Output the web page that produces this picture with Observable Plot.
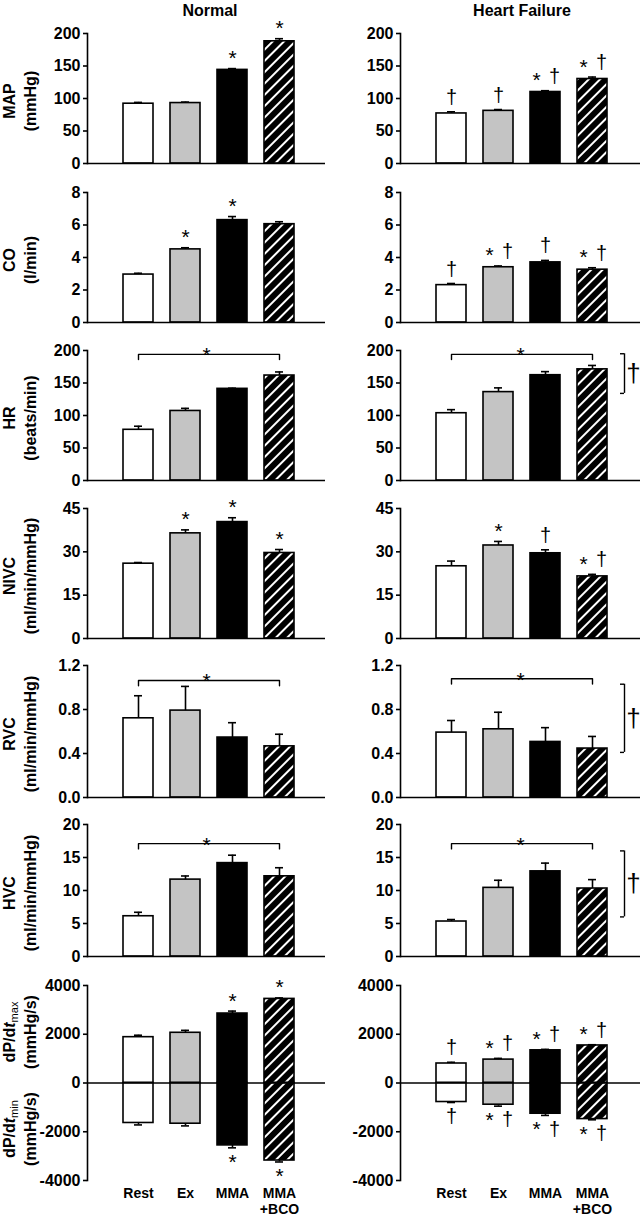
<!DOCTYPE html>
<html>
<head>
<meta charset="utf-8">
<script src="https://cdn.jsdelivr.net/npm/d3@7"></script>
<script src="https://cdn.jsdelivr.net/npm/@observablehq/plot@0.6"></script>
<style>
  html, body { margin: 0; padding: 0; background: #fff; }
  #fig { position: relative; width: 643px; height: 1220px; overflow: hidden; font-family: Arial, "Liberation Sans", Helvetica, sans-serif; color: #000; }
  #fig svg.panel { position: absolute; overflow: visible; background: transparent; max-width: none; }
  .title { position: absolute; font-weight: bold; font-size: 16px; white-space: nowrap; transform: translate(-50%, -50%); }
  .ylab { position: absolute; font-weight: bold; font-size: 16px; white-space: nowrap; text-align: center; line-height: 21px; transform: translate(-50%, -50%) rotate(-90deg); }
  .ylab sub { font-size: 11px; font-weight: normal; vertical-align: -3px; line-height: 0; }
</style>
</head>
<body>
<svg width="0" height="0" style="position:absolute">
  <defs>
    <pattern id="hatch" patternUnits="userSpaceOnUse" width="8" height="8" patternTransform="rotate(45)">
      <rect width="8" height="8" fill="#000"/>
      <rect x="3" y="0" width="2" height="8" fill="#fff"/>
    </pattern>
  </defs>
</svg>
<div id="fig"></div>
<script>
// ---------- data ----------
const categories = ["Rest", "Ex", "MMA", "MMA+BCO"];
const xTickLabels = ["Rest", "Ex", "MMA", "MMA\n+BCO"];
const barFills = ["white", "#c4c4c4", "black", "url(#hatch)"];
const groups = ["Normal", "Heart Failure"];

const mapNormal = [92, 93, 144, 188];
const mapNormalSE = [2, 1.5, 2, 4];
const mapNormalSig = ["", "", "*", "*"];
const mapHF = [77, 81, 110, 130];
const mapHFSE = [2.5, 2, 2, 3];
const mapHFSig = ["†", "†", "*†", "*†"];

const coNormal = [2.95, 4.5, 6.3, 6.05];
const coNormalSE = [0.08, 0.1, 0.22, 0.15];
const coNormalSig = ["", "*", "*", ""];
const coHF = [2.3, 3.4, 3.7, 3.25];
const coHFSE = [0.1, 0.08, 0.12, 0.12];
const coHFSig = ["†", "*†", "†", "*†"];

const hrNormal = [78, 107, 141, 161.5];
const hrNormalSE = [5.5, 4, 1, 5.5];
const hrHF = [103.5, 136, 162, 171];
const hrHFSE = [5.5, 6.5, 5.5, 6];
const hrBracket = [194, 194];
const hrSideBracket = [195, 134];

const nivcNormal = [25.9, 36.4, 40.3, 29.6];
const nivcNormalSE = [0.4, 1.2, 1.5, 1.2];
const nivcNormalSig = ["", "*", "*", "*"];
const nivcHF = [25.0, 32.2, 29.5, 21.5];
const nivcHFSE = [1.8, 1.4, 1.2, 0.7];
const nivcHFSig = ["", "*", "†", "*†"];

const rvcNormal = [0.72, 0.79, 0.545, 0.465];
const rvcNormalSE = [0.205, 0.22, 0.135, 0.11];
const rvcHF = [0.59, 0.62, 0.505, 0.445];
const rvcHFSE = [0.11, 0.155, 0.13, 0.11];
const rvcBracket = [1.064, 1.08];
const rvcSideBracket = [1.03, 0.41];

const hvcNormal = [6.1, 11.65, 14.15, 12.15];
const hvcNormalSE = [0.6, 0.55, 1.2, 1.3];
const hvcHF = [5.3, 10.4, 12.9, 10.3];
const hvcHFSE = [0.3, 1.15, 1.25, 1.35];
const hvcBracket = [17.1, 17.1];
const hvcSideBracket = [16, 6];

const dpMaxNormal = [1880, 2060, 2850, 3450];
const dpMaxNormalSE = [80, 100, 100, 40];
const dpMinNormal = [-1640, -1670, -2560, -3180];
const dpMinNormalSE = [80, 90, 100, 60];
const dpNormalSig = ["", "", "*", "*"];
const dpMaxHF = [800, 960, 1340, 1540];
const dpMaxHFSE = [50, 50, 40, 30];
const dpMinHF = [-780, -890, -1260, -1480];
const dpMinHFSE = [20, 60, 70, 30];
const dpHFSig = ["†", "*†", "*†", "*†"];

const none = ["", "", "", ""];

const rows = [
  {label: ["MAP", "(mmHg)"], domain: [0, 200], ticks: [0, 50, 100, 150, 200], fmt: d => `${d}`, top: 33, bottom: 163,
   g: [{mean: mapNormal, se: mapNormalSE, sig: mapNormalSig}, {mean: mapHF, se: mapHFSE, sig: mapHFSig}]},
  {label: ["CO", "(l/min)"], domain: [0, 8], ticks: [0, 2, 4, 6, 8], fmt: d => `${d}`, top: 192, bottom: 322,
   g: [{mean: coNormal, se: coNormalSE, sig: coNormalSig}, {mean: coHF, se: coHFSE, sig: coHFSig}]},
  {label: ["HR", "(beats/min)"], domain: [0, 200], ticks: [0, 50, 100, 150, 200], fmt: d => `${d}`, top: 350, bottom: 480,
   g: [{mean: hrNormal, se: hrNormalSE, sig: none, bracket: hrBracket[0]},
       {mean: hrHF, se: hrHFSE, sig: none, bracket: hrBracket[1], side: hrSideBracket}]},
  {label: ["NIVC", "(ml/min/mmHg)"], domain: [0, 45], ticks: [0, 15, 30, 45], fmt: d => `${d}`, top: 508, bottom: 638,
   g: [{mean: nivcNormal, se: nivcNormalSE, sig: nivcNormalSig}, {mean: nivcHF, se: nivcHFSE, sig: nivcHFSig}]},
  {label: ["RVC", "(ml/min/mmHg)"], domain: [0, 1.2], ticks: [0, 0.4, 0.8, 1.2], fmt: d3.format(".1f"), top: 665, bottom: 797,
   g: [{mean: rvcNormal, se: rvcNormalSE, sig: none, bracket: rvcBracket[0]},
       {mean: rvcHF, se: rvcHFSE, sig: none, bracket: rvcBracket[1], side: rvcSideBracket}]},
  {label: ["HVC", "(ml/min/mmHg)"], domain: [0, 20], ticks: [0, 5, 10, 15, 20], fmt: d => `${d}`, top: 824, bottom: 956,
   g: [{mean: hvcNormal, se: hvcNormalSE, sig: none, bracket: hvcBracket[0]},
       {mean: hvcHF, se: hvcHFSE, sig: none, bracket: hvcBracket[1], side: hvcSideBracket}]},
  {label: null, domain: [-4000, 4000], ticks: [-4000, -2000, 0, 2000, 4000], fmt: d => `${d}`, top: 985, bottom: 1180, xAxis: true,
   g: [{mean: dpMaxNormal, se: dpMaxNormalSE, sig: dpNormalSig, neg: {mean: dpMinNormal, se: dpMinNormalSE, sig: dpNormalSig}},
       {mean: dpMaxHF, se: dpMaxHFSE, sig: dpHFSig, neg: {mean: dpMinHF, se: dpMinHFSE, sig: dpHFSig}}]}
];

// ---------- helpers ----------
const fig = document.getElementById("fig");
const FONT = "Arial, 'Liberation Sans', Helvetica, sans-serif";

function table(g) {
  return categories.map((c, i) => ({cat: c, fill: barFills[i], mean: g.mean[i], se: g.se[i], sig: g.sig[i]}));
}

function barMarks(data, below) {
  const tip = d => below ? d.mean - d.se : d.mean + d.se;
  return [
    Plot.barY(data, {x: "cat", y: "mean", fill: "fill", stroke: "black", strokeWidth: 1.6}),
    Plot.ruleX(data, {x: "cat", y1: "mean", y2: tip, stroke: "black", strokeWidth: 1.6}),
    Plot.tickY(data, {x: "cat", y: tip, stroke: "black", strokeWidth: 1.6, insetLeft: 11, insetRight: 11})
  ];
}

function sigMarks(data, below) {
  const tip = d => below ? d.mean - d.se : d.mean + d.se;
  const both = d => d.sig.includes("*") && d.sig.includes("†");
  const stars = data.filter(d => d.sig.includes("*"));
  const dags = data.filter(d => d.sig.includes("†"));
  const common = {x: "cat", y: tip, fontWeight: "normal", fill: "black", lineAnchor: below ? "top" : "bottom"};
  return [
    Plot.text(stars.filter(d => !both(d)), {...common, text: () => "*", fontSize: 21, dy: below ? 6 : -3.5}),
    Plot.text(stars.filter(both), {...common, text: () => "*", fontSize: 21, dy: below ? 6 : -3.5, dx: -9}),
    Plot.text(dags.filter(d => !both(d)), {...common, text: () => "†", fontSize: 20, dy: below ? 6 : -8}),
    Plot.text(dags.filter(both), {...common, text: () => "†", fontSize: 20, dy: below ? 6 : -8, dx: 9})
  ];
}

function makePanel(spec, col) {
  const g = spec.g[col];
  const isLeft = col === 0;
  const width = isLeft ? 330 : 323;
  const marginLeft = isLeft ? 87 : 80;
  const marginRight = isLeft ? 5 : 3;
  const xRange = isLeft ? [122.5, 294] : [116, 288];
  const marginTop = 30;
  const marginBottom = spec.xAxis ? 38 : 12;
  const height = marginTop + (spec.bottom - spec.top) + marginBottom;
  const span = spec.domain[1] - spec.domain[0];

  const data = table(g);
  const marks = [...barMarks(data, false)];
  let negData = null;
  if (g.neg) {
    negData = table(g.neg);
    marks.push(...barMarks(negData, true));
  }
  marks.push(Plot.ruleY([0], {stroke: "black", strokeWidth: 1.6}));
  marks.push(Plot.frame({anchor: "left", stroke: "black", strokeWidth: 1.6}));
  marks.push(Plot.axisY({ticks: spec.ticks, tickFormat: spec.fmt, tickSize: 4, tickPadding: 3, strokeWidth: 1.6, fontSize: 16, fontWeight: "bold", label: null}));
  if (spec.xAxis) {
    marks.push(Plot.axisX({tickSize: 0, tickPadding: 6, fontSize: 14, fontWeight: "bold", lineHeight: 1.15, label: null,
      tickFormat: d => xTickLabels[categories.indexOf(d)]}));
  }
  marks.push(...sigMarks(data, false));
  if (negData) marks.push(...sigMarks(negData, true));

  if (g.bracket !== undefined) {
    const drop = span * 0.04;
    const b = g.bracket;
    const pts = [
      {cat: categories[0], y: b - drop}, {cat: categories[0], y: b},
      {cat: categories[3], y: b}, {cat: categories[3], y: b - drop}
    ];
    marks.push(Plot.line(pts, {x: "cat", y: "y", stroke: "black", strokeWidth: 1.4}));
    marks.push(Plot.text([b], {y: d => d, text: () => "*", fontSize: 21, fontWeight: "normal", lineAnchor: "bottom", dy: 8}));
  }
  if (g.side) {
    const [s1, s2] = g.side;
    const last = categories[3];
    marks.push(Plot.ruleX([{cat: last}], {x: "cat", y1: s1, y2: s2, dx: 32, stroke: "black", strokeWidth: 1.4}));
    marks.push(Plot.tickY([{cat: last, y: s1}, {cat: last, y: s2}], {x: "cat", y: "y", dx: 17, insetLeft: 26, stroke: "black", strokeWidth: 1.4}));
    marks.push(Plot.text([{cat: last, y: (s1 + s2) / 2}], {x: "cat", y: "y", text: () => "†", dx: 41, fontSize: 26, fontWeight: "normal", lineAnchor: "middle"}));
  }

  const svg = Plot.plot({
    width, height, marginLeft, marginRight, marginTop, marginBottom,
    style: {fontFamily: FONT, fontSize: "15px", fontWeight: "bold", color: "black", background: "transparent", overflow: "visible"},
    x: {type: "band", domain: categories, range: xRange, paddingInner: 0.36, paddingOuter: 0, axis: null},
    y: {domain: spec.domain},
    color: {type: "identity"},
    marks
  });
  svg.classList.add("panel");
  svg.style.left = (isLeft ? 0 : 320) + "px";
  svg.style.top = (spec.top - marginTop) + "px";
  fig.appendChild(svg);
}

rows.forEach(spec => { makePanel(spec, 0); makePanel(spec, 1); });

// ---------- titles ----------
[[groups[0], 210], [groups[1], 522]].forEach(([t, x]) => {
  const d = document.createElement("div");
  d.className = "title"; d.textContent = t;
  d.style.left = x + "px"; d.style.top = "11px";
  fig.appendChild(d);
});

// ---------- y labels ----------
rows.forEach(spec => {
  if (!spec.label) return;
  const d = document.createElement("div");
  d.className = "ylab";
  d.innerHTML = spec.label[0] + "<br>" + spec.label[1];
  d.style.left = "20px";
  d.style.top = ((spec.top + spec.bottom) / 2 + 3) + "px";
  fig.appendChild(d);
});
[["max", 1032], ["min", 1129]].forEach(([s, y]) => {
  const d = document.createElement("div");
  d.className = "ylab";
  d.innerHTML = "dP/d<i>t</i><sub>" + s + "</sub><br>(mmHg/s)";
  d.style.left = "20px";
  d.style.top = y + "px";
  fig.appendChild(d);
});
</script>
</body>
</html>
